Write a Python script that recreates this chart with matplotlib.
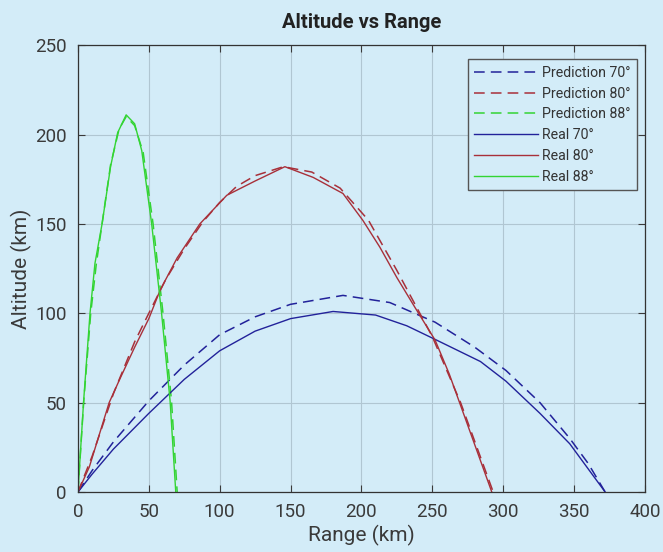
import numpy as np
import matplotlib.pyplot as plt

plt.rcParams['font.family'] = ['Roboto', 'DejaVu Sans']

# Trajectory data (km)
pred70_x = [0, 10, 25, 50, 75, 100, 125, 150, 187, 220, 252, 280, 302, 326, 347, 360, 372]
pred70_y = [0, 12, 28, 51, 71, 88, 98, 105, 110, 106, 95, 81, 68, 50, 30, 16, 0]

pred80_x = [0, 10, 25, 40, 50, 62, 75, 88, 100, 112, 125, 145, 165, 185, 205, 225, 250, 270, 293]
pred80_y = [0, 20, 55, 84, 100, 119, 136, 151, 162, 171, 177, 182, 179, 170, 152, 124, 87, 50, 0]

pred88_x = [0, 4, 9, 13, 17, 23, 29, 34, 40, 46, 53, 60, 66, 70]
pred88_y = [0, 50, 100, 128, 150, 183, 203, 210, 205, 190, 150, 100, 51, 0]

real70_x = [0, 10, 25, 50, 75, 100, 125, 150, 180, 210, 232, 253, 284, 302, 326, 347, 372]
real70_y = [0, 10, 24, 44, 63, 79, 90, 97, 101, 99, 93, 85, 73, 62, 44, 27, 0]

real80_x = [0, 8, 22, 30, 40, 50, 58, 70, 86, 105, 125, 146, 166, 187, 201, 213, 225, 238, 252, 262, 272, 292]
real80_y = [0, 14, 50, 64, 81, 97, 113, 131, 150, 166, 174, 182, 176, 167, 152, 137, 120, 103, 85, 66, 44, 0]

real88_x = [0, 4, 8.5, 12, 17, 23, 28, 34, 40, 45, 52, 59, 65, 69]
real88_y = [0, 51, 100, 128, 150, 182, 201, 211, 206, 191, 150, 100, 51, 0]

bg = '#d3ecf8'
blue = '#22229a'
red = '#a8303a'
green = '#33d433'

fig = plt.figure(figsize=(6.63, 5.52), dpi=100, facecolor=bg)
ax = fig.add_axes([0.1176, 0.1087, 0.855, 0.8095])
ax.set_facecolor(bg)

ax.plot(pred70_x, pred70_y, '--', color=blue, lw=1.1, dashes=(7, 4), label='Prediction 70°')
ax.plot(pred80_x, pred80_y, '--', color=red, lw=1.1, dashes=(7, 4), label='Prediction 80°')
ax.plot(pred88_x, pred88_y, '--', color=green, lw=1.1, dashes=(7, 4), label='Prediction 88°')
ax.plot(real70_x, real70_y, '-', color=blue, lw=1.0, label='Real 70°')
ax.plot(real80_x, real80_y, '-', color=red, lw=1.0, label='Real 80°')
ax.plot(real88_x, real88_y, '-', color=green, lw=1.0, label='Real 88°')

ax.set_xlim(0, 400)
ax.set_ylim(0, 250)
ax.set_xticks(np.arange(0, 401, 50))
ax.set_yticks(np.arange(0, 251, 50))
ax.grid(True, color='#b0c6d2', lw=0.8)
ax.set_axisbelow(True)
ax.tick_params(direction='in', top=True, right=True, labelsize=13.5, colors='#3a3a3a',
               length=5, pad=8)
for s in ax.spines.values():
    s.set_color('#333333')
    s.set_linewidth(0.9)

ax.set_xlabel('Range (km)', fontsize=15, color='#3a3a3a', labelpad=3)
ax.set_ylabel('Altitude (km)', fontsize=15, color='#3a3a3a', labelpad=2)
ax.set_title('Altitude vs Range', fontsize=14.5, fontweight='bold', color='#222222', pad=12)

leg = ax.legend(loc='upper right', bbox_to_anchor=(0.986, 0.968), borderaxespad=0,
                fontsize=10.2, fancybox=False, framealpha=1, facecolor=bg,
                edgecolor='#555555', handlelength=4.5, borderpad=0.45,
                labelspacing=0.48, handletextpad=0.3)
for t in leg.get_texts():
    t.set_color('#333333')

fig.savefig('out.png', dpi=100, facecolor=bg)
